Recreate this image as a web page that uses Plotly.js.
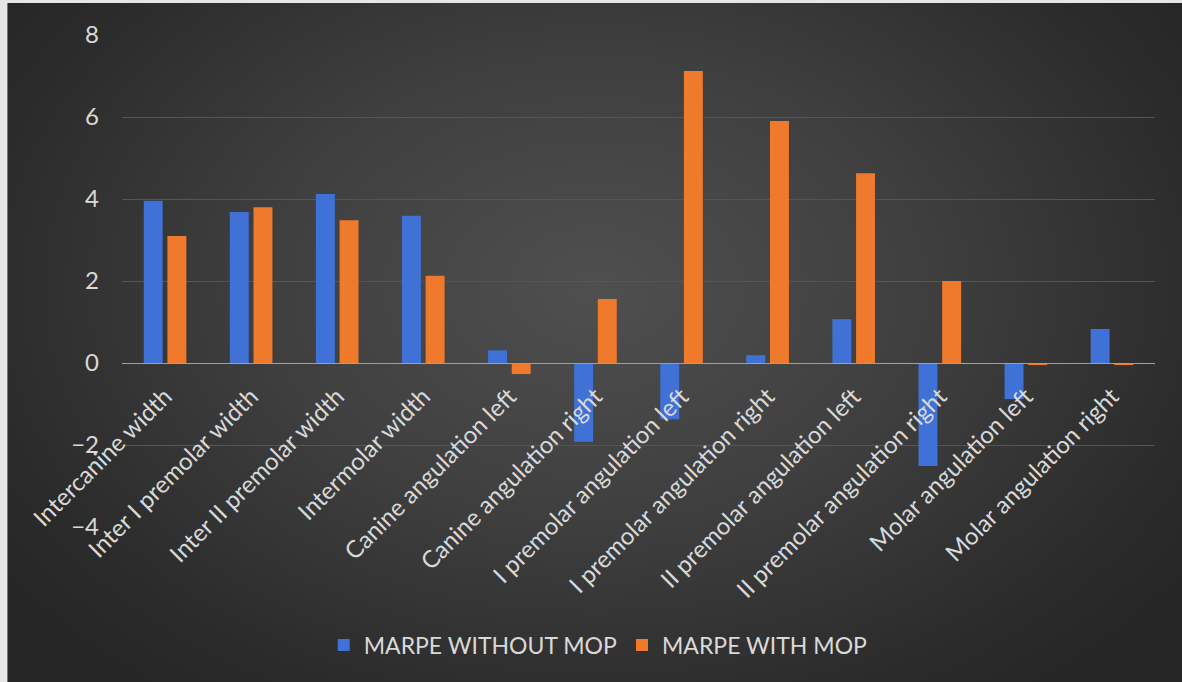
<!DOCTYPE html>
<html>
<head>
<meta charset="utf-8">
<script src="https://cdn.plot.ly/plotly-3.0.1.min.js"></script>
<style>
  html, body { margin: 0; padding: 0; background: #ffffff; }
  #frame { position: absolute; left: 0; top: 0; width: 1182px; height: 682px; background: #e6e6e6; }
  #panel {
    position: absolute; left: 7px; top: 3px; width: 1175px; height: 679px;
    background: radial-gradient(ellipse 62% 75% at 50% 42%, #4f4f4f 0%, #3f3f3f 45%, #2b2b2b 85%, #262626 100%);
    border-left: 1px solid #777;
    box-sizing: border-box;
  }
  #chart { position: absolute; left: 0; top: 0; width: 1182px; height: 682px; }
</style>
</head>
<body>
<div id="frame"><div id="panel"></div></div>
<div id="chart"></div>
<script>
// Change in each measurement, with and without MOP
const categories = [
  "Intercanine width",
  "Inter I premolar width",
  "Inter II premolar width",
  "Intermolar width",
  "Canine angulation left",
  "Canine angulation right",
  "I premolar angulation left",
  "I premolar angulation right",
  "II premolar angulation left",
  "II premolar angulation right",
  "Molar angulation left",
  "Molar angulation right"
];
const withoutMop = [3.96, 3.68, 4.12, 3.59, 0.31, -1.92, -1.37, 0.19, 1.07, -2.51, -0.88, 0.83];
const withMop    = [3.10, 3.80, 3.48, 2.13, -0.27, 1.56, 7.12, 5.90, 4.63, 2.00, -0.05, -0.05];
const seriesNames = ["MARPE WITHOUT MOP", "MARPE WITH MOP"];
const yTicks = [-4, -2, 0, 2, 4, 6, 8];

const FONT = "Lato, 'Open Sans', sans-serif";
const TEXT = "#d9d9d9";

const traces = [
  {
    type: "bar", name: seriesNames[0], x: categories, y: withoutMop,
    marker: { color: "#3f71d6" }, hoverinfo: "x+y"
  },
  {
    type: "bar", name: seriesNames[1], x: categories, y: withMop,
    marker: { color: "#f07a2c" }, hoverinfo: "x+y"
  }
];

const layout = {
  width: 1182, height: 682,
  paper_bgcolor: "rgba(0,0,0,0)",
  plot_bgcolor: "rgba(0,0,0,0)",
  margin: { l: 122, r: 27, t: 35, b: 155 },
  barmode: "group",
  bargap: 0.45,
  bargroupgap: 0.2,
  font: { family: FONT, color: TEXT },
  showlegend: true,
  legend: {
    orientation: "h",
    x: 0.461, xanchor: "center",
    y: -0.24, yanchor: "middle",
    font: { family: FONT, size: 23, color: TEXT },
    bgcolor: "rgba(0,0,0,0)"
  },
  xaxis: {
    type: "category",
    anchor: "free",
    position: 4 / 12,
    showline: true, linecolor: "#a0a0a0", linewidth: 1,
    showgrid: false, zeroline: false,
    ticks: "outside", ticklen: 9, tickcolor: "rgba(0,0,0,0)",
    tickangle: -45,
    tickfont: { family: FONT, size: 24, color: TEXT }
  },
  yaxis: {
    range: [-4, 8],
    tickvals: yTicks,
    showgrid: true, gridcolor: "#555555", gridwidth: 1,
    zeroline: false, showline: false,
    ticks: "",
    ticklabelstandoff: 22,
    tickfont: { family: FONT, size: 24, color: TEXT }
  }
};

Plotly.newPlot("chart", traces, layout, { displayModeBar: false, staticPlot: true });
</script>
</body>
</html>
